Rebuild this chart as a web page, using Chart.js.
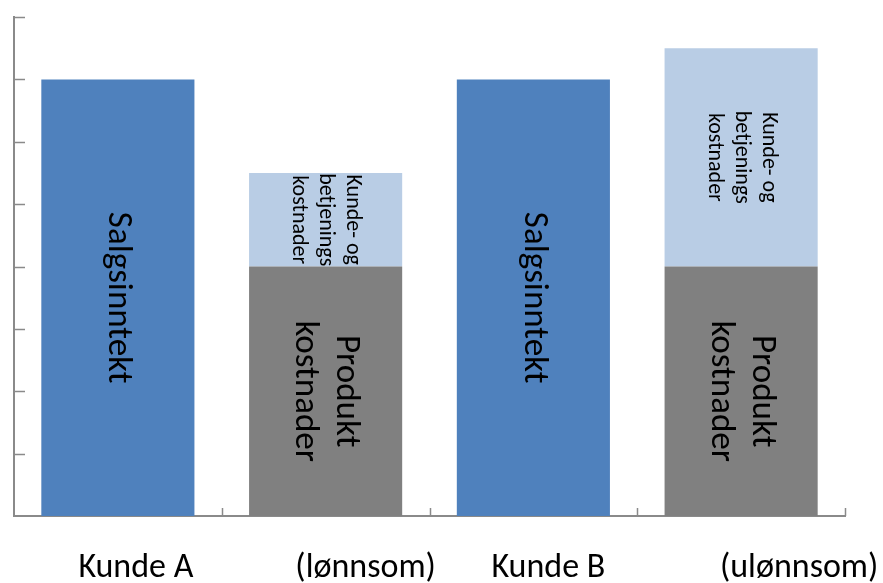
<!DOCTYPE html>
<html>
<head>
<meta charset="utf-8">
<script src="https://cdn.jsdelivr.net/npm/chart.js@4/dist/chart.umd.min.js"></script>
<style>
  html, body { margin: 0; padding: 0; background: #ffffff; }
  canvas { display: block; }
</style>
</head>
<body>
<canvas id="c" width="883" height="583"></canvas>
<script>
// Categories along the x axis
const categories = ["Kunde A", "(lønnsom)", "Kunde B", "(ulønnsom)"];

// Stacked segments per category
const salgsinntekt     = [7, null, 7, null];
const produktKostnader = [null, 4, null, 4];
const betjeningKost    = [null, 1.5, null, 3.5];

// Text written inside each segment (one entry per line)
const salgsLabel   = ["Salgsinntekt"];
const produktLabel = ["Produkt", "kostnader"];
const betjenLabel  = ["Kunde- og", "betjenings", "kostnader"];

// Value axis
const yMin = 0, yMax = 8, yStep = 1;

// Horizontal nudge of each category caption (px)
const captionShift = [18, 40, 15, 58];

const FONT = "Carlito, Calibri, Lato, sans-serif";
const AXIS_COLOR = "#8a8a8a";

const segmentText = {
  id: "segmentText",
  afterDatasetsDraw(chart) {
    const ctx = chart.ctx;
    chart.data.datasets.forEach((ds, di) => {
      const meta = chart.getDatasetMeta(di);
      meta.data.forEach((bar, i) => {
        if (ds.data[i] == null) return;
        const cx = bar.x;
        const cy = (bar.y + bar.base) / 2;
        const lines = ds.segLines;
        const size = ds.segFont;
        const lh = ds.segLine;
        ctx.save();
        ctx.translate(cx, cy);
        ctx.rotate(Math.PI / 2);
        ctx.fillStyle = "#000000";
        ctx.font = size + "px " + FONT;
        ctx.textAlign = "center";
        ctx.textBaseline = "middle";
        lines.forEach((t, k) => {
          ctx.fillText(t, 0, (k - (lines.length - 1) / 2) * lh);
        });
        ctx.restore();
      });
    });
  }
};

const axisDecor = {
  id: "axisDecor",
  afterDraw(chart) {
    const ctx = chart.ctx;
    const x = chart.scales.x, y = chart.scales.y;
    const area = chart.chartArea;
    ctx.save();
    ctx.strokeStyle = AXIS_COLOR;
    ctx.lineWidth = 1.5;
    // inward ticks on the value axis
    for (let v = yMin + yStep; v <= yMax; v += yStep) {
      const py = Math.round(y.getPixelForValue(v)) + 0.5;
      ctx.beginPath();
      ctx.moveTo(area.left, py);
      ctx.lineTo(area.left + 11, py);
      ctx.stroke();
    }
    // inward ticks at category boundaries
    const half = (x.getPixelForValue(1) - x.getPixelForValue(0)) / 2;
    categories.forEach((c, i) => {
      const px = Math.round(x.getPixelForValue(i) + half) + 0.5;
      ctx.beginPath();
      ctx.moveTo(px, area.bottom);
      ctx.lineTo(px, area.bottom - 8);
      ctx.stroke();
    });
    // category captions
    ctx.fillStyle = "#000000";
    ctx.font = "34px " + FONT;
    ctx.textAlign = "center";
    ctx.textBaseline = "alphabetic";
    categories.forEach((c, i) => {
      ctx.fillText(c, x.getPixelForValue(i) + captionShift[i], 577);
    });
    ctx.restore();
  }
};

new Chart(document.getElementById("c"), {
  type: "bar",
  data: {
    labels: categories,
    datasets: [
      { label: "Salgsinntekt", data: salgsinntekt, backgroundColor: "#4F81BD",
        segLines: salgsLabel, segFont: 35, segLine: 40 },
      { label: "Produkt kostnader", data: produktKostnader, backgroundColor: "#808080",
        segLines: produktLabel, segFont: 35, segLine: 41 },
      { label: "Kunde- og betjeningskostnader", data: betjeningKost, backgroundColor: "#B9CDE5",
        segLines: betjenLabel, segFont: 22, segLine: 27 }
    ]
  },
  options: {
    responsive: false,
    animation: false,
    events: [],
    layout: { padding: { left: 14, top: 17, right: 38, bottom: 67 } },
    datasets: { bar: { categoryPercentage: 1, barPercentage: 0.737, borderWidth: 0 } },
    plugins: { legend: { display: false }, tooltip: { enabled: false } },
    scales: {
      x: {
        stacked: true,
        offset: true,
        grid: { display: false },
        border: { display: true, color: AXIS_COLOR, width: 2 },
        ticks: { display: false },
        afterFit(s) { s.height = 0; }
      },
      y: {
        stacked: true,
        min: yMin, max: yMax,
        ticks: { display: false, stepSize: yStep },
        grid: { display: false },
        border: { display: true, color: AXIS_COLOR, width: 2 },
        afterFit(s) { s.width = 0; }
      }
    }
  },
  plugins: [segmentText, axisDecor]
});
</script>
</body>
</html>
